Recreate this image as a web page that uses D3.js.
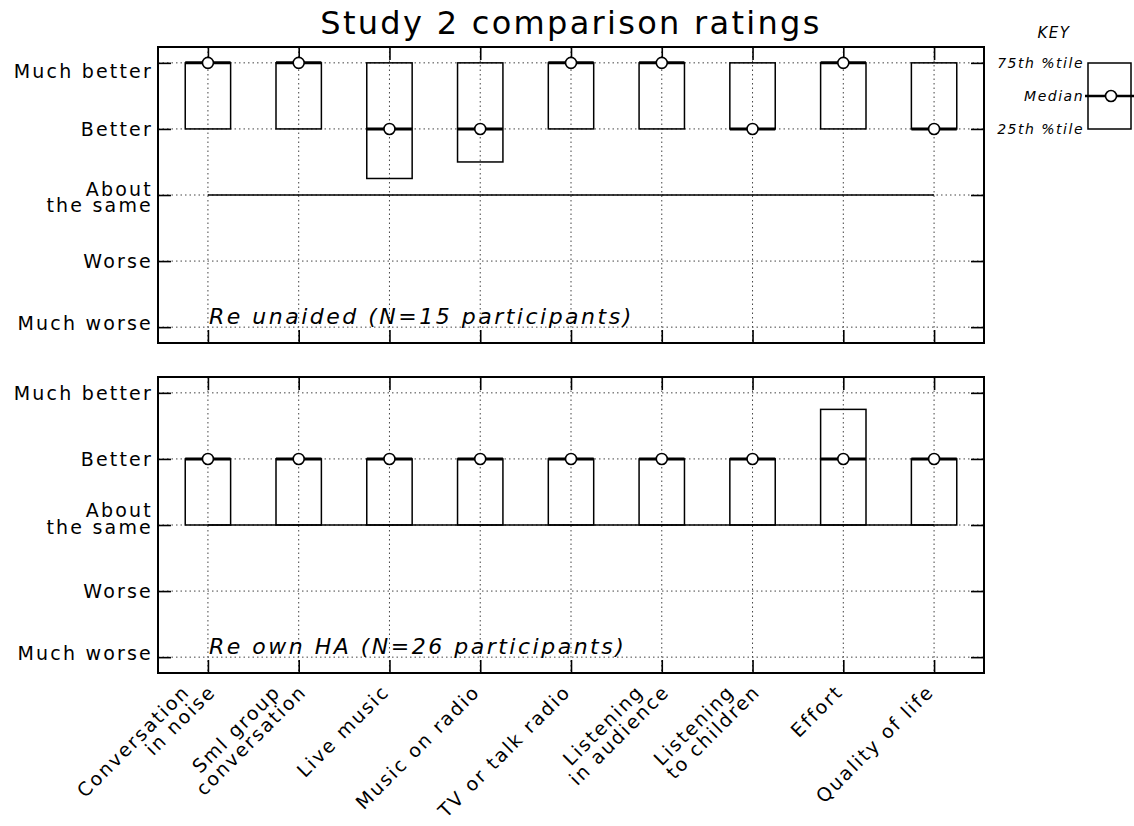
<!DOCTYPE html>
<html>
<head>
<meta charset="utf-8">
<script src="https://cdn.jsdelivr.net/npm/d3@7"></script>
<style>
  body { margin: 0; background: #fff; }
  text { font-family: "DejaVu Sans", sans-serif; fill: #000; }
</style>
</head>
<body>
<svg id="chart" width="1134" height="826"></svg>
<script>
// categories (multi-line labels split into lines)
const categories = [
  ["Conversation", "in noise"],
  ["Sml group", "conversation"],
  ["Live music"],
  ["Music on radio"],
  ["TV or talk radio"],
  ["Listening", "in audience"],
  ["Listening", "to children"],
  ["Effort"],
  ["Quality of life"],
];

// rating scale
const ratingValues = [-2, -1, 0, 1, 2];
const ratingLabels = [["Much worse"], ["Worse"], ["About", "the same"], ["Better"], ["Much better"]];

// Re unaided (N=15)
const unaidedQ25 = [1, 1, 0.25, 0.5, 1, 1, 1, 1, 1];
const unaidedMedian = [2, 2, 1, 1, 2, 2, 1, 2, 1];
const unaidedQ75 = [2, 2, 2, 2, 2, 2, 2, 2, 2];

// Re own HA (N=26)
const ownHAQ25 = [0, 0, 0, 0, 0, 0, 0, 0, 0];
const ownHAMedian = [1, 1, 1, 1, 1, 1, 1, 1, 1];
const ownHAQ75 = [1, 1, 1, 1, 1, 1, 1, 1.75, 1];

const svg = d3.select("#chart");

const left = 158, right = 984;
const tickLen = 13;

const x = d3.scaleLinear().domain([0.45, 9.55]).range([left, right]);
const idx = d3.range(1, categories.length + 1);

const panels = [
  {
    top: 47, bottom: 343,
    note: "Re unaided (N=15 participants)",
    q25: unaidedQ25, med: unaidedMedian, q75: unaidedQ75,
    // label nudges (per level, per line) to follow the original layout
    labelDy: { "-2": [3], "-1": [7], "0": [1, 17], "1": [7], "2": [15] },
    xLabels: false,
  },
  {
    top: 377, bottom: 673,
    note: "Re own HA (N=26 participants)",
    q25: ownHAQ25, med: ownHAMedian, q75: ownHAQ75,
    labelDy: { "-2": [3], "-1": [7], "0": [-8, 9], "1": [7], "2": [7] },
    xLabels: true,
  },
];

// title
svg.append("text")
  .attr("x", (left + right) / 2)
  .attr("y", 34)
  .attr("text-anchor", "middle")
  .style("font-size", "32px")
  .style("letter-spacing", "2.3px")
  .text("Study 2 comparison ratings");

panels.forEach((p) => {
  const y = d3.scaleLinear().domain([-2.24, 2.24]).range([p.bottom, p.top]);
  const g = svg.append("g");

  // dotted grid
  g.selectAll(".hgrid")
    .data(ratingValues)
    .join("line")
    .attr("x1", left).attr("x2", right)
    .attr("y1", (d) => y(d)).attr("y2", (d) => y(d))
    .attr("stroke", "#444").attr("stroke-width", 1)
    .attr("stroke-dasharray", "1.5,3");
  g.selectAll(".vgrid")
    .data(idx)
    .join("line")
    .attr("x1", (d) => x(d)).attr("x2", (d) => x(d))
    .attr("y1", p.top).attr("y2", p.bottom)
    .attr("stroke", "#444").attr("stroke-width", 1)
    .attr("stroke-dasharray", "1.5,3");

  // inward ticks on all four sides
  const axes = [
    [d3.axisLeft(y).tickValues(ratingValues), `translate(${left},0)`],
    [d3.axisRight(y).tickValues(ratingValues), `translate(${right},0)`],
    [d3.axisTop(x).tickValues(idx), `translate(0,${p.top})`],
    [d3.axisBottom(x).tickValues(idx), `translate(0,${p.bottom})`],
  ];
  axes.forEach(([ax, tr]) => {
    const a = g.append("g")
      .attr("transform", tr)
      .call(ax.tickSizeInner(-tickLen).tickSizeOuter(0).tickFormat(""));
    a.select(".domain").remove();
    a.selectAll("line").attr("stroke", "#000").attr("stroke-width", 1.6);
  });

  // "about the same" reference line
  g.append("line")
    .attr("x1", x(1)).attr("x2", x(categories.length))
    .attr("y1", y(0)).attr("y2", y(0))
    .attr("stroke", "#000").attr("stroke-width", 1.5);

  // boxes
  const half = 0.25;
  const boxes = g.selectAll(".box").data(idx.map((d, i) => ({
    c: d, q25: p.q25[i], med: p.med[i], q75: p.q75[i],
  }))).join("g");

  boxes.append("rect")
    .attr("x", (d) => x(d.c - half))
    .attr("width", (d) => x(d.c + half) - x(d.c - half))
    .attr("y", (d) => y(d.q75))
    .attr("height", (d) => y(d.q25) - y(d.q75))
    .attr("fill", "none")
    .attr("stroke", "#000").attr("stroke-width", 1.5);

  boxes.append("line")
    .attr("x1", (d) => x(d.c - half)).attr("x2", (d) => x(d.c + half))
    .attr("y1", (d) => y(d.med)).attr("y2", (d) => y(d.med))
    .attr("stroke", "#000").attr("stroke-width", 3);

  boxes.append("circle")
    .attr("cx", (d) => x(d.c)).attr("cy", (d) => y(d.med))
    .attr("r", 5.5)
    .attr("fill", "#fff")
    .attr("stroke", "#000").attr("stroke-width", 1.6);

  // frame
  g.append("rect")
    .attr("x", left).attr("y", p.top)
    .attr("width", right - left).attr("height", p.bottom - p.top)
    .attr("fill", "none").attr("stroke", "#000").attr("stroke-width", 2);

  // y labels
  ratingValues.forEach((v, i) => {
    ratingLabels[i].forEach((line, j) => {
      g.append("text")
        .attr("x", left - 5)
        .attr("y", y(v) + p.labelDy[v][j])
        .attr("text-anchor", "end")
        .style("font-size", "19px")
        .style("letter-spacing", "2.2px")
        .text(line);
    });
  });

  // panel note
  g.append("text")
    .attr("x", 209)
    .attr("y", y(-2) - 3)
    .style("font-size", "22px")
    .style("font-style", "italic")
    .style("letter-spacing", "2.5px")
    .text(p.note);

  // rotated category labels under the lower panel
  if (p.xLabels) {
    categories.forEach((lines, i) => {
      const n = lines.length;
      lines.forEach((line, j) => {
        const off = 1 + (j - (n - 1) / 2) * 26 - (n - 1) * 5;
        const tx = x(i + 1) + off, ty = p.bottom + 20;
        g.append("text")
          .attr("transform", `translate(${tx},${ty}) rotate(-45)`)
          .attr("text-anchor", "end")
          .style("font-size", "19px")
          .style("letter-spacing", "2px")
          .text(line);
      });
    });
  }
});

// key
const key = svg.append("g");
const ky = d3.scaleLinear().domain([1, 2]).range([129, 63]);
key.append("text")
  .attr("x", 1054).attr("y", 38)
  .attr("text-anchor", "middle")
  .style("font-size", "15px").style("font-style", "italic")
  .style("letter-spacing", "1.5px")
  .text("KEY");
key.append("rect")
  .attr("x", 1088).attr("y", ky(2))
  .attr("width", 43).attr("height", ky(1) - ky(2))
  .attr("fill", "none").attr("stroke", "#000").attr("stroke-width", 1.5);
key.append("line")
  .attr("x1", 1085).attr("x2", 1134)
  .attr("y1", ky(1.5)).attr("y2", ky(1.5))
  .attr("stroke", "#000").attr("stroke-width", 2.5);
key.append("circle")
  .attr("cx", 1111).attr("cy", ky(1.5)).attr("r", 5.5)
  .attr("fill", "#fff").attr("stroke", "#000").attr("stroke-width", 1.6);
const keyLabels = ["25th %tile", "Median", "75th %tile"];
[1, 1.5, 2].forEach((v, i) => {
  key.append("text")
    .attr("x", 1084).attr("y", ky(v) + 5)
    .attr("text-anchor", "end")
    .style("font-size", "14px").style("font-style", "italic")
    .style("letter-spacing", "1.5px")
    .text(keyLabels[i]);
});
</script>
</body>
</html>
